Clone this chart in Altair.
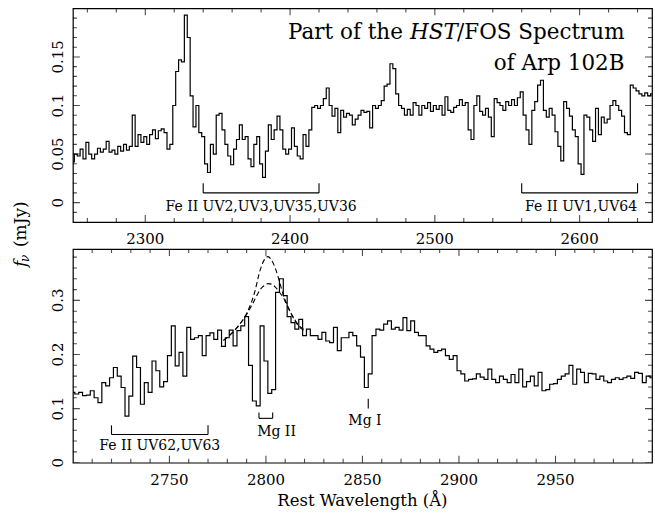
import altair as alt
import pandas as pd

FONT = "DejaVu Serif"

# Spectrum binning (Å)
TOP_START = 2250
BOT_START = 2700
BIN = 2

# Upper panel: f_nu (mJy), 2250-2650 Å in 2-Å bins
top_flux = [
    0.042, 0.050, 0.048, 0.055, 0.045, 0.062, 0.050, 0.045, 0.050, 0.056,
    0.052, 0.055, 0.063, 0.052, 0.054, 0.050, 0.058, 0.053, 0.060, 0.054,
    0.058, 0.090, 0.058, 0.070, 0.062, 0.068, 0.060, 0.070, 0.075, 0.066,
    0.074, 0.076, 0.072, 0.055, 0.060, 0.100, 0.135, 0.147, 0.145, 0.193,
    0.170, 0.110, 0.078, 0.100, 0.072, 0.068, 0.040, 0.031, 0.060, 0.050,
    0.090, 0.092, 0.075, 0.060, 0.048, 0.039, 0.055, 0.065, 0.080, 0.065,
    0.068, 0.045, 0.037, 0.060, 0.068, 0.040, 0.026, 0.053, 0.080, 0.065,
    0.075, 0.089, 0.075, 0.055, 0.050, 0.055, 0.077, 0.058, 0.048, 0.045,
    0.070, 0.058, 0.075, 0.098, 0.100, 0.097, 0.100, 0.107, 0.118, 0.100,
    0.089, 0.097, 0.072, 0.095, 0.088, 0.092, 0.090, 0.080, 0.086, 0.090,
    0.095, 0.093, 0.094, 0.077, 0.100, 0.097, 0.100, 0.105, 0.120, 0.122,
    0.143, 0.138, 0.112, 0.100, 0.097, 0.090, 0.096, 0.090, 0.103, 0.100,
    0.090, 0.100, 0.097, 0.103, 0.094, 0.100, 0.096, 0.100, 0.090, 0.109,
    0.095, 0.093, 0.098, 0.100, 0.106, 0.100, 0.103, 0.075, 0.065, 0.100,
    0.110, 0.094, 0.090, 0.097, 0.088, 0.068, 0.107, 0.103, 0.100, 0.095,
    0.104, 0.100, 0.106, 0.100, 0.108, 0.114, 0.090, 0.075, 0.060, 0.095,
    0.104, 0.121, 0.126, 0.095, 0.088, 0.097, 0.090, 0.073, 0.058, 0.043,
    0.104, 0.097, 0.089, 0.075, 0.068, 0.040, 0.029, 0.090, 0.088, 0.075,
    0.063, 0.097, 0.070, 0.088, 0.082, 0.086, 0.100, 0.105, 0.100, 0.095,
    0.089, 0.072, 0.070, 0.121, 0.118, 0.115, 0.112, 0.110, 0.113, 0.110,
    0.112,
]

# Lower panel: f_nu (mJy), 2700-3000 Å in 2-Å bins
bot_flux = [
    0.130, 0.127, 0.130, 0.124, 0.125, 0.133, 0.120, 0.111, 0.148, 0.142,
    0.157, 0.176, 0.160, 0.139, 0.086, 0.123, 0.197, 0.176, 0.108, 0.148,
    0.130, 0.188, 0.170, 0.140, 0.150, 0.198, 0.253, 0.179, 0.204, 0.160,
    0.250, 0.228, 0.231, 0.235, 0.198, 0.235, 0.240, 0.228, 0.245, 0.215,
    0.231, 0.245, 0.216, 0.244, 0.253, 0.270, 0.180, 0.114, 0.105, 0.253,
    0.188, 0.128, 0.135, 0.315, 0.340, 0.309, 0.270, 0.259, 0.247, 0.265,
    0.235, 0.247, 0.235, 0.235, 0.228, 0.241, 0.225, 0.222, 0.250, 0.207,
    0.231, 0.231, 0.241, 0.235, 0.216, 0.195, 0.139, 0.164, 0.235, 0.247,
    0.245, 0.256, 0.262, 0.247, 0.250, 0.245, 0.268, 0.244, 0.262, 0.241,
    0.235, 0.235, 0.216, 0.210, 0.204, 0.207, 0.210, 0.198, 0.191, 0.198,
    0.170, 0.164, 0.151, 0.154, 0.155, 0.164, 0.158, 0.154, 0.173, 0.154,
    0.148, 0.160, 0.154, 0.148, 0.163, 0.148, 0.173, 0.140, 0.150, 0.160,
    0.142, 0.167, 0.133, 0.135, 0.145, 0.146, 0.154, 0.160, 0.164, 0.180,
    0.145, 0.173, 0.167, 0.148, 0.165, 0.164, 0.154, 0.160, 0.151, 0.148,
    0.154, 0.157, 0.154, 0.157, 0.160, 0.156, 0.167, 0.165, 0.148, 0.160,
    0.157,
]

# Mg II emission-line models (dashed)
mg2_wave = [2778, 2782, 2786, 2790, 2794, 2797, 2799, 2801, 2803, 2805,
            2807, 2809, 2811, 2814, 2817, 2821]
mg2_upper = [0.226, 0.238, 0.254, 0.276, 0.313, 0.356, 0.374, 0.381, 0.374,
             0.358, 0.335, 0.310, 0.292, 0.269, 0.252, 0.243]
mg2_lower = [0.226, 0.238, 0.254, 0.274, 0.300, 0.320, 0.327, 0.331, 0.330,
             0.324, 0.315, 0.305, 0.290, 0.270, 0.254, 0.244]

# Axis labels
top_xlabels = [2300, 2400, 2500, 2600]
top_ylabels = [0, 0.05, 0.1, 0.15]
bot_xlabels = [2750, 2800, 2850, 2900, 2950]
bot_ylabels = [0, 0.1, 0.2, 0.3]

# Minor tick positions
top_xminor = [2260, 2280, 2320, 2340, 2360, 2380, 2420, 2440, 2460, 2480,
              2520, 2540, 2560, 2580, 2620, 2640]
top_yminor = [-0.01, 0.01, 0.02, 0.03, 0.04, 0.06, 0.07, 0.08, 0.09, 0.11,
              0.12, 0.13, 0.14, 0.16, 0.17, 0.18, 0.19]
bot_xminor = [2710, 2720, 2730, 2740, 2760, 2770, 2780, 2790, 2810, 2820,
              2830, 2840, 2860, 2870, 2880, 2890, 2910, 2920, 2930, 2940,
              2960, 2970, 2980, 2990]
bot_yminor = [0.02, 0.04, 0.06, 0.08, 0.12, 0.14, 0.16, 0.18, 0.22, 0.24,
              0.26, 0.28, 0.32, 0.34, 0.36, 0.38]

# Line identifications: brackets (start, end, level, tick top) and labels
top_brackets = [(2340, 2420, 0.010, 0.020), (2560, 2640, 0.010, 0.020)]
top_notes = [(2380, -0.004, "Fe II  UV2,UV3,UV35,UV36"),
             (2601, -0.004, "Fe II  UV1,UV64")]
bot_brackets = [(2720, 2770, 0.052, 0.069), (2796.4, 2803.5, 0.082, 0.093)]
bot_marks = [(2853, 0.100, 0.118)]
bot_notes = [(2745, 0.031, "Fe II  UV62,UV63"),
             (2805.5, 0.057, "Mg  II"),
             (2851.3, 0.077, "Mg  I")]

W, H = 580, 214
TOP_X = [2250, 2650]
TOP_Y = [-0.02, 0.2]
BOT_X = [2700, 3000]
BOT_Y = [0, 0.395]
MAJOR, MINOR = 14, 8
LABEL_SIZE = 15


def spectrum_frame(start, flux):
    return pd.DataFrame({"wave": [start + BIN * i for i in range(len(flux))],
                         "flux": flux})


def panel(flux, start, xdom, ydom, xlabels, ylabels, xminor, yminor,
          brackets, marks, notes, xlab_gap):
    xs = alt.Scale(domain=xdom, nice=False, zero=False)
    ys = alt.Scale(domain=ydom, nice=False, zero=False)

    line = alt.Chart(spectrum_frame(start, flux)).mark_line(
        interpolate="step", color="black", strokeWidth=1.2, clip=True
    ).encode(x=alt.X("wave:Q", scale=xs, axis=None),
             y=alt.Y("flux:Q", scale=ys, axis=None))

    # inward ticks on all four edges (half of each tick is clipped away)
    xt = pd.DataFrame(
        [{"v": v, "edge": e, "s": MAJOR} for v in xlabels for e in ydom]
        + [{"v": v, "edge": e, "s": MINOR} for v in xminor for e in ydom])
    yt = pd.DataFrame(
        [{"v": v, "edge": e, "s": MAJOR} for v in ylabels for e in xdom]
        + [{"v": v, "edge": e, "s": MINOR} for v in yminor for e in xdom])
    xticks = alt.Chart(xt).mark_tick(orient="vertical", thickness=1.1,
                                     color="black", clip=True).encode(
        x=alt.X("v:Q", axis=None), y=alt.Y("edge:Q", axis=None),
        size=alt.Size("s:Q", scale=None))
    yticks = alt.Chart(yt).mark_tick(orient="horizontal", thickness=1.1,
                                     color="black", clip=True).encode(
        y=alt.Y("v:Q", axis=None), x=alt.X("edge:Q", axis=None),
        size=alt.Size("s:Q", scale=None))

    # tick labels, placed through the panel scales
    xl = pd.DataFrame({"v": xlabels, "t": [f"{v:d}" for v in xlabels]})
    yl = pd.DataFrame({"v": ylabels, "t": [f"{v:g}" for v in ylabels]})
    xlab = alt.Chart(xl).mark_text(font=FONT, fontSize=LABEL_SIZE,
                                   color="black", baseline="middle",
                                   align="center").encode(
        x=alt.X("v:Q", axis=None), y=alt.value(H + xlab_gap), text="t:N")
    ylab = alt.Chart(yl).mark_text(font=FONT, fontSize=LABEL_SIZE,
                                   color="black", baseline="alphabetic",
                                   align="center", angle=270).encode(
        y=alt.Y("v:Q", axis=None), x=alt.value(-9.5), text="t:N")

    hb = pd.DataFrame([{"a": a, "b": b, "y": y} for a, b, y, _ in brackets])
    vb = pd.DataFrame([{"x": x, "y1": y, "y2": t} for a, b, y, t in brackets
                       for x in (a, b)]
                      + [{"x": x, "y1": y1, "y2": y2} for x, y1, y2 in marks])
    hrule = alt.Chart(hb).mark_rule(color="black", strokeWidth=1.1).encode(
        x=alt.X("a:Q", axis=None), x2="b:Q", y=alt.Y("y:Q", axis=None))
    vrule = alt.Chart(vb).mark_rule(color="black", strokeWidth=1.1).encode(
        x=alt.X("x:Q", axis=None), y=alt.Y("y1:Q", axis=None), y2="y2:Q")

    nt = pd.DataFrame([{"x": x, "y": y, "t": t} for x, y, t in notes])
    labels = alt.Chart(nt).mark_text(font=FONT, fontSize=14, color="black",
                                     baseline="middle", align="center").encode(
        x=alt.X("x:Q", axis=None), y=alt.Y("y:Q", axis=None), text="t:N")

    return [line, xticks, yticks, xlab, ylab, hrule, vrule, labels]


top_layers = panel(top_flux, TOP_START, TOP_X, TOP_Y, top_xlabels, top_ylabels,
                   top_xminor, top_yminor, top_brackets, [], top_notes, 16.5)

# Panel heading, right-aligned in the upper panel
head = pd.DataFrame({"x": [2631.0], "y1": [0.168], "y2": [0.137]})
TS = 21.5


def head_text(text, y, dx, style="normal"):
    return alt.Chart(head).mark_text(font=FONT, fontSize=TS, color="black",
                                     align="right", baseline="alphabetic",
                                     dx=dx, fontStyle=style).encode(
        x=alt.X("x:Q", axis=None), y=alt.Y(f"{y}:Q", axis=None),
        text=alt.value(text))


top_layers += [
    head_text("/FOS Spectrum", "y1", 0),
    head_text("HST", "y1", -167, "italic"),
    head_text("Part of the", "y1", -222),
    head_text("of Arp 102B", "y2", 0),
]

bot_layers = panel(bot_flux, BOT_START, BOT_X, BOT_Y, bot_xlabels, bot_ylabels,
                   bot_xminor, bot_yminor, bot_brackets, bot_marks, bot_notes,
                   17.5)

models = pd.DataFrame({
    "wave": mg2_wave + mg2_wave,
    "flux": mg2_upper + mg2_lower,
    "model": ["upper"] * len(mg2_wave) + ["lower"] * len(mg2_wave),
})
bot_layers.append(
    alt.Chart(models).mark_line(color="black", strokeWidth=1.1,
                                strokeDash=[5, 3], interpolate="monotone").encode(
        x=alt.X("wave:Q", axis=None), y=alt.Y("flux:Q", axis=None),
        detail="model:N"))

# Axis titles: x title under the lower panel, y title between the panels
titles = pd.DataFrame({"k": [0]})


def free_text(text, px, py, size, angle=0, align="left",
              baseline="alphabetic", style="normal"):
    return alt.Chart(titles).mark_text(font=FONT, fontSize=size, color="black",
                                       angle=angle, align=align,
                                       baseline=baseline,
                                       fontStyle=style).encode(
        x=alt.value(px), y=alt.value(py), text=alt.value(text))


bot_layers += [
    free_text("Rest Wavelength (Å)", W / 2, H + 38, 16.5, align="center",
              baseline="middle"),
    free_text("f", -47, 18, 17, angle=270, style="italic"),
    free_text("ν", -44, 13, 12, angle=270, style="italic"),
    free_text("(mJy)", -47, -2, 17, angle=270),
]

top = alt.layer(*top_layers).properties(width=W, height=H)
bottom = alt.layer(*bot_layers).properties(width=W, height=H)

chart = alt.vconcat(top, bottom, spacing=27, bounds="flush").properties(
    padding={"left": 11, "top": 7, "right": 2, "bottom": 5},
    background="white",
).configure_view(
    stroke="black", strokeWidth=1.2
)

chart.save("out.html", embed_options={"renderer": "svg", "actions": False})
